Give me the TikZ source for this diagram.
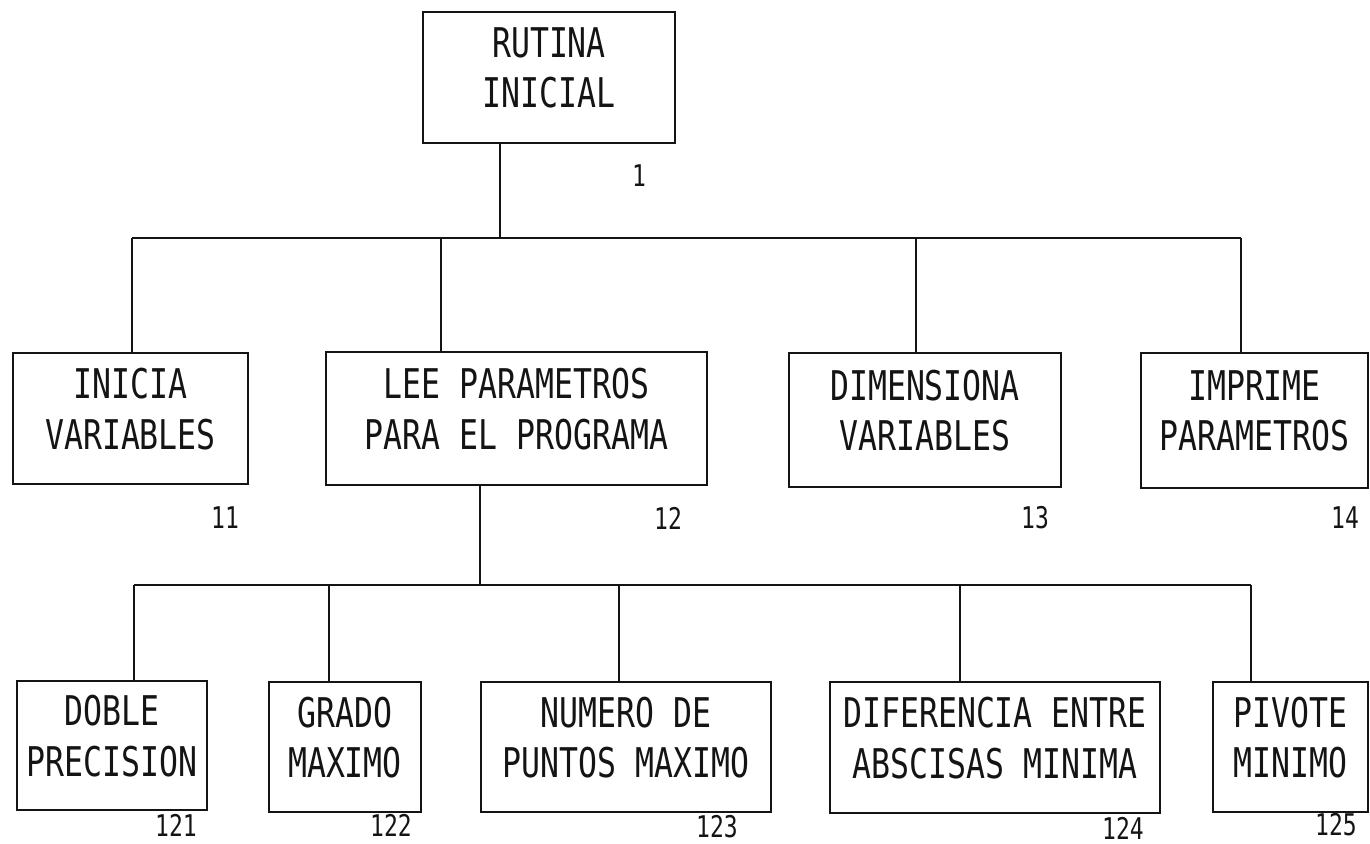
\documentclass[tikz,border=0pt]{standalone}
\usepackage{fontspec}
\usepackage{xcolor}
\usepackage{tikz}
\usetikzlibrary{positioning,calc}
\newfontfamily\maquina[FakeStretch=0.77]{DejaVu Sans Mono}
\definecolor{tinta}{HTML}{141414}
\newcommand\bajolinea{\rule[-11pt]{0pt}{11pt}}

\tikzset{
  caja/.style={draw=tinta, line width=1.3pt, align=center, inner sep=2pt,
               font=\maquina\fontsize{23.3}{28.5}\selectfont, text=tinta},
  numero/.style={font=\maquina\fontsize{17}{20}\selectfont, text=tinta},
  rama/.style={draw=tinta, line width=1.2pt}
}

\begin{document}
\begin{tikzpicture}[x=0.02cm, y=-0.02cm]
  \useasboundingbox (0,0) rectangle (1370,844);

  % rutina principal
  \node[caja, minimum width=5.04cm, minimum height=2.62cm] (rutina) at (549,77.5)
    {RUTINA\\INICIAL\bajolinea};
  \node[numero] (n1) at (639,176) {1};

  % primer nivel
  \node[caja, minimum width=4.70cm, minimum height=2.62cm] (inicia) at (130.5,418.5)
    {INICIA\\VARIABLES\bajolinea};
  \node[caja, minimum width=7.62cm, minimum height=2.66cm] (lee) at (516.5,418.5)
    {LEE PARAMETROS\\PARA EL PROGRAMA\bajolinea};
  \node[caja, minimum width=5.44cm, minimum height=2.68cm] (dimensiona) at (925,420)
    {DIMENSIONA\\VARIABLES\bajolinea};
  \node[caja, minimum width=4.54cm, minimum height=2.70cm] (imprime) at (1254.5,420.5)
    {IMPRIME\\PARAMETROS\bajolinea};
  \node[numero] (n11) at (225,518) {11};
  \node[numero] (n12) at (668,518) {12};
  \node[numero] (n13) at (1035,518) {13};
  \node[numero] (n14) at (1345,518) {14};

  % segundo nivel (parametros)
  \node[caja, minimum width=3.80cm, minimum height=2.58cm] (doble) at (112,745.5)
    {DOBLE\\PRECISION\bajolinea};
  \node[caja, minimum width=3.04cm, minimum height=2.60cm] (grado) at (345,747)
    {GRADO\\MAXIMO\bajolinea};
  \node[caja, minimum width=5.80cm, minimum height=2.60cm] (puntos) at (626,747)
    {NUMERO DE\\PUNTOS MAXIMO\bajolinea};
  \node[caja, minimum width=6.60cm, minimum height=2.62cm] (abscisas) at (995,747.5)
    {DIFERENCIA ENTRE\\ABSCISAS MINIMA\bajolinea};
  \node[caja, minimum width=3.10cm, minimum height=2.60cm] (pivote) at (1290.5,747)
    {PIVOTE\\MINIMO\bajolinea};
  \node[numero] (n121) at (176,825) {121};
  \node[numero] (n122) at (391,825) {122};
  \node[numero] (n123) at (717,827) {123};
  \node[numero] (n124) at (1123,828) {124};
  \node[numero] (n125) at (1336,825) {125};

  % ramas del primer nivel
  \coordinate (r1) at (500,238);
  \coordinate (b11) at (132,238);
  \coordinate (b12) at (441,238);
  \coordinate (b13) at (916,238);
  \coordinate (b14) at (1241,238);
  \draw[rama] (rutina.south -| r1) -- (r1);
  \draw[rama] (b11) -- (b14);
  \foreach \c/\n in {b11/inicia, b12/lee, b13/dimensiona, b14/imprime}
    \draw[rama] (\c) -- (\c |- \n.north);

  % ramas del segundo nivel
  \coordinate (r12) at (480,585);
  \coordinate (b121) at (134,585);
  \coordinate (b122) at (329,585);
  \coordinate (b123) at (619,585);
  \coordinate (b124) at (960,585);
  \coordinate (b125) at (1251,585);
  \draw[rama] (lee.south -| r12) -- (r12);
  \draw[rama] (b121) -- (b125);
  \foreach \c/\n in {b121/doble, b122/grado, b123/puntos, b124/abscisas, b125/pivote}
    \draw[rama] (\c) -- (\c |- \n.north);
\end{tikzpicture}
\end{document}
